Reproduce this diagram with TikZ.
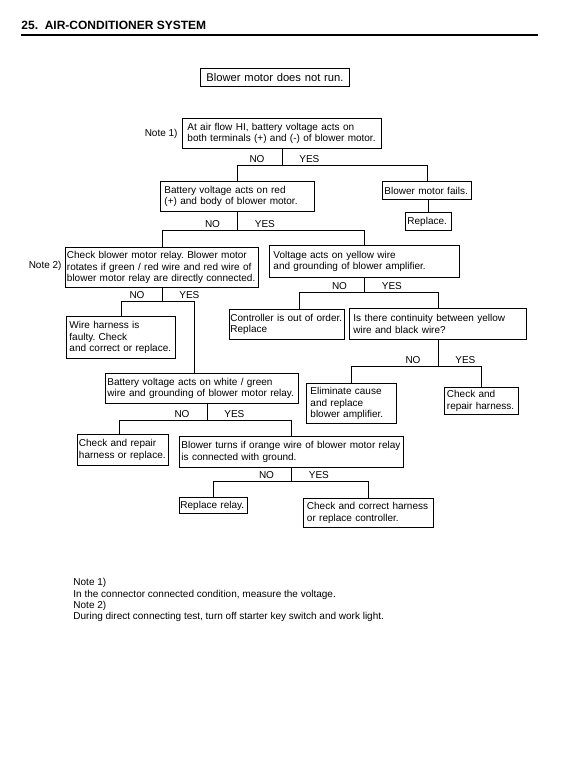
\documentclass[tikz,border=0pt]{standalone}
\usepackage{fontspec}
\setmainfont{Liberation Sans}
\usepackage{tikz}
\frenchspacing
\hyphenpenalty=10000
\exhyphenpenalty=10000

\begin{document}
\begin{tikzpicture}[x=1pt,y=-1pt,line width=0.9pt,
  box/.style={draw,anchor=north west,align=left,inner xsep=4pt,inner ysep=2pt,
    font=\fontsize{10}{11.3}\selectfont},
  lbl/.style={inner sep=0pt,font=\fontsize{10}{11.3}\selectfont}]
  \useasboundingbox (0,0) rectangle (583,764);

  \node[anchor=base west,inner sep=0pt,font=\fontsize{12}{14}\selectfont\bfseries] (t) at (21,29.3) {25.\ \ AIR-CONDITIONER SYSTEM};
  \draw[line width=2pt] (21,34.5) -- (537.5,34.5);

  \node[box,align=center,text width=141pt,minimum height=18pt,font=\fontsize{11.2}{13}\selectfont] (1) at (200,68) {Blower motor does not run.};
  \node[box,inner xsep=5pt,text width=189pt,minimum height=30pt] (2) at (182,118) {At air flow HI, battery voltage acts on\\both terminals (+) and (-) of blower motor.};
  \node[box,text width=146pt,minimum height=30pt] (3) at (160,181) {Battery voltage acts on red\\(+) and body of blower motor.};
  \node[box,inner xsep=2pt,text width=85pt,minimum height=18pt] (4) at (382,181) {Blower motor fails.};
  \node[box,inner xsep=2pt,text width=42pt,minimum height=18pt] (5) at (405,212) {Replace.};
  \node[box,inner xsep=1.5pt,text width=190pt,minimum height=40pt] (6) at (65,247) {Check blower motor relay. Blower motor\\rotates if green / red wire and red wire of\\blower motor relay are directly connected.};
  \node[box,text width=182pt,minimum height=32pt] (7) at (269,245) {Voltage acts on yellow wire\\and grounding of blower amplifier.};
  \node[box,inner xsep=3pt,text width=103pt,minimum height=42pt] (8) at (66,316) {Wire harness is\\faulty. Check\\and correct or replace.};
  \node[box,inner xsep=1pt,text width=113pt,minimum height=30pt] (9) at (229,309) {Controller is out of order.\\Replace};
  \node[box,text width=169pt,minimum height=31pt] (10) at (349,308) {Is there continuity between yellow\\wire and black wire?};
  \node[box,inner xsep=2pt,text width=189pt,minimum height=30pt] (11) at (105,373) {Battery voltage acts on white / green\\wire and grounding of blower motor relay.};
  \node[box,text width=82pt,minimum height=40pt] (12) at (306,383) {Eliminate cause\\and replace\\blower amplifier.};
  \node[box,inner xsep=2.5pt,text width=69pt,minimum height=27pt] (13) at (444,387) {Check and\\repair harness.};
  \node[box,inner xsep=1.5pt,text width=88pt,minimum height=31pt] (14) at (77,434) {Check and repair\\harness or replace.};
  \node[box,inner xsep=2pt,text width=220pt,minimum height=31pt] (15) at (179,436) {Blower turns if orange wire of blower motor relay\\is connected with ground.};
  \node[box,inner xsep=1pt,text width=66pt,minimum height=16pt] (16) at (179,497) {Replace relay.};
  \node[box,inner xsep=3.5pt,text width=123pt,minimum height=29pt] (17) at (303,498) {Check and correct harness\\or replace controller.};

  \node[lbl,anchor=east] (m1) at ([xshift=-4pt]2.west) {Note 1)};
  \node[lbl,anchor=east] (m2) at ([xshift=-3pt,yshift=2pt]6.west) {Note 2)};

  \coordinate (j2) at ([yshift=-17pt]2.south);
  \draw (2) -- (j2);
  \draw (3) |- (j2) -| (4);
  \node[lbl,anchor=base east] (n2) at ([xshift=-17pt,yshift=3pt]j2) {NO};
  \node[lbl,anchor=base west] (y2) at ([xshift=17pt,yshift=3pt]j2) {YES};
  \draw (5) -- (5 |- 4.south);

  \coordinate (j3) at ([yshift=-19pt]3.south);
  \draw (3) -- (j3);
  \draw (6) |- (j3) -| (7);
  \node[lbl,anchor=base east] (n3) at ([xshift=-17pt,yshift=3pt]j3) {NO};
  \node[lbl,anchor=base west] (y3) at ([xshift=17pt,yshift=3pt]j3) {YES};

  \coordinate (j6) at ([yshift=-14pt]6.south);
  \draw (6) -- (j6);
  \draw (8) |- (j6) -| ([xshift=-8pt]11.north);
  \node[lbl,anchor=base east] (n6) at ([xshift=-17pt,yshift=3pt]j6) {NO};
  \node[lbl,anchor=base west] (y6) at ([xshift=17pt,yshift=3pt]j6) {YES};

  \coordinate (j7) at ([yshift=-15pt]7.south);
  \draw (7) -- (j7);
  \draw ([xshift=12.5pt]9.north) |- (j7) -| (10);
  \node[lbl,anchor=base east] (n7) at ([xshift=-17pt,yshift=3pt]j7) {NO};
  \node[lbl,anchor=base west] (y7) at ([xshift=17pt,yshift=3pt]j7) {YES};

  \coordinate (j10) at ([yshift=-27pt]10.south);
  \draw (10) -- (j10);
  \draw (12) |- (j10) -| (13);
  \node[lbl,anchor=base east] (n10) at ([xshift=-17pt,yshift=3pt]j10) {NO};
  \node[lbl,anchor=base west] (y10) at ([xshift=17pt,yshift=3pt]j10) {YES};

  \coordinate (j11) at ([xshift=5pt,yshift=-17pt]11.south);
  \draw ([xshift=5pt]11.south) -- (j11);
  \draw ([xshift=-4pt]14.north) |- (j11) -| (15);
  \node[lbl,anchor=base east] (n11) at ([xshift=-17pt,yshift=3pt]j11) {NO};
  \node[lbl,anchor=base west] (y11) at ([xshift=17pt,yshift=3pt]j11) {YES};

  \coordinate (j15) at ([yshift=-14pt]15.south);
  \draw (15) -- (j15);
  \draw (16) |- (j15) -| (17);
  \node[lbl,anchor=base east] (n15) at ([xshift=-17pt,yshift=3pt]j15) {NO};
  \node[lbl,anchor=base west] (y15) at ([xshift=17pt,yshift=3pt]j15) {YES};

  \node[lbl,anchor=north west,align=left] (notes) at (73,578) {Note 1)\\In the connector connected condition, measure the voltage.\\Note 2)\\During direct connecting test, turn off starter key switch and work light.};
\end{tikzpicture}
\end{document}
